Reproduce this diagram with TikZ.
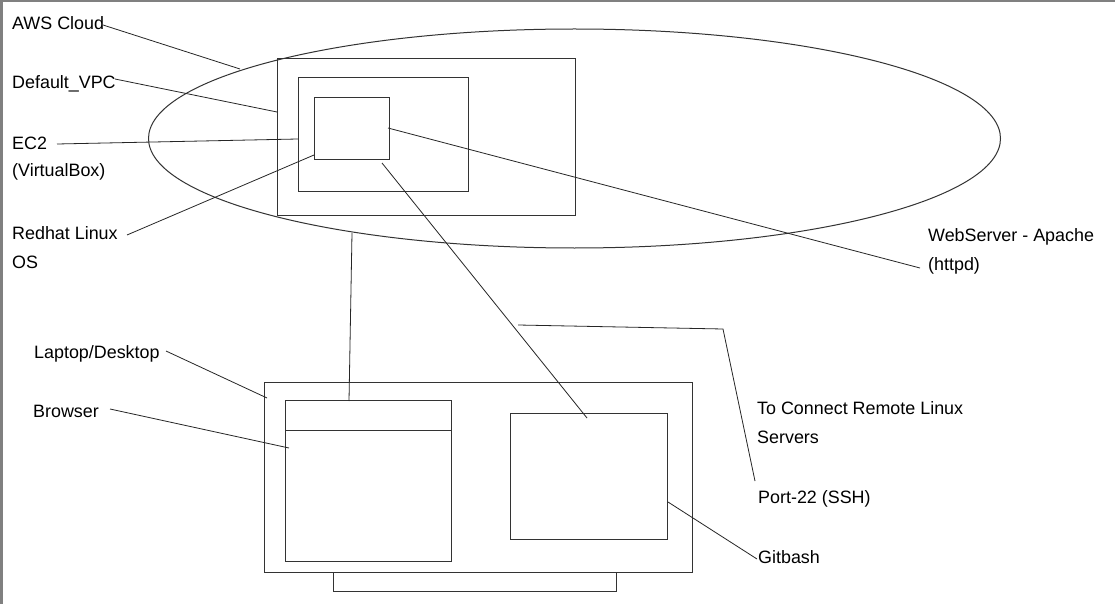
\documentclass[tikz,border=0pt]{standalone}
\usepackage{fontspec}
\setmainfont{Liberation Sans}
\begin{document}
\begin{tikzpicture}[x=1pt,y=-1pt,
  lbl/.style={anchor=base west,inner sep=0pt,font=\fontsize{17.9}{21}\selectfont},
  ln/.style={draw=black!85,line width=0.8pt},
  box/.style={draw=black!80,line width=1pt}]
\useasboundingbox (0,0) rectangle (1115,604);
\fill[white] (0,0) rectangle (1115,604);
\fill[gray] (0,0) rectangle (3,604);
\fill[gray] (0,0) rectangle (1115,2);

% cloud
\coordinate (cloudC) at (574.5,138.5);
\draw[box] (cloudC) ellipse [x radius=426, y radius=109.5];

% boxes
\coordinate (awsA) at (277,59);  \coordinate (awsB) at (575,215);
\coordinate (vpcA) at (298,78);  \coordinate (vpcB) at (468,191);
\coordinate (ec2A) at (314,98);  \coordinate (ec2B) at (389,160);
\coordinate (lapA) at (264,382); \coordinate (lapB) at (692,572);
\coordinate (brA) at (285,400);  \coordinate (brB) at (451,561);
\coordinate (brH1) at (285,430); \coordinate (brH2) at (451,430);
\coordinate (gbA) at (510,413);  \coordinate (gbB) at (667,539);
\coordinate (stA) at (333,572);  \coordinate (stB) at (616,591);
\draw[box] (awsA) rectangle (awsB);
\draw[box] (vpcA) rectangle (vpcB);
\draw[box] (ec2A) rectangle (ec2B);
\draw[box] (lapA) rectangle (lapB);
\draw[box] (brA) rectangle (brB);
\draw[box] (brH1) -- (brH2);
\draw[box] (gbA) rectangle (gbB);
\draw[box] (stA) rectangle (stB);

% labels
\node[lbl] (aws) at (12,30) {AWS Cloud};
\node[lbl] (vpc) at (12,89) {Default\_VPC};
\node[lbl] (ec2) at (12,150) {EC2};
\node[lbl] (vbox) at (12,177) {(VirtualBox)};
\node[lbl] (rh) at (12,239) {Redhat Linux};
\node[lbl] (os) at (12,268) {OS};
\node[lbl] (lap) at (34,358) {Laptop/Desktop};
\node[lbl] (br) at (33,417) {Browser};
\node[lbl] (ws) at (928,241) {WebServer - Apache};
\node[lbl] (httpd) at (928,270) {(httpd)};
\node[lbl] (tc) at (757,414) {To Connect Remote Linux};
\node[lbl] (srv) at (757,443) {Servers};
\node[lbl] (port) at (758,503) {Port-22 (SSH)};
\node[lbl] (gb) at (758,563) {Gitbash};

% connector end points
\coordinate (awsS) at (103,25);  \coordinate (awsE) at (240,69);
\coordinate (vpcS) at (115,79);  \coordinate (vpcE) at (277,112);
\coordinate (ec2S) at (57,144);  \coordinate (ec2E) at (298,139);
\coordinate (rhS) at (127,235);  \coordinate (rhE) at (314,155);
\coordinate (wsS) at (388,128);  \coordinate (wsE) at (920,268);
\coordinate (sshS) at (382,163); \coordinate (sshE) at (587,418);
\coordinate (vS) at (352,233);   \coordinate (vE) at (349,401);
\coordinate (lapS) at (166,351); \coordinate (lapE) at (267,398);
\coordinate (brS) at (110,409);  \coordinate (brE) at (289,448);
\coordinate (gbS) at (668,502);  \coordinate (gbE) at (757,559);
\coordinate (pS) at (518,325);   \coordinate (pM) at (723,329);
\coordinate (pE) at (755,481);

\draw[ln] (awsS) -- (awsE);
\draw[ln] (vpcS) -- (vpcE);
\draw[ln] (ec2S) -- (ec2E);
\draw[ln] (rhS) -- (rhE);
\draw[ln] (wsS) -- (wsE);
\draw[ln] (sshS) -- (sshE);
\draw[ln] (vS) -- (vE);
\draw[ln] (lapS) -- (lapE);
\draw[ln] (brS) -- (brE);
\draw[ln] (gbS) -- (gbE);
\draw[ln] (pS) -- (pM) -- (pE);
\end{tikzpicture}
\end{document}
